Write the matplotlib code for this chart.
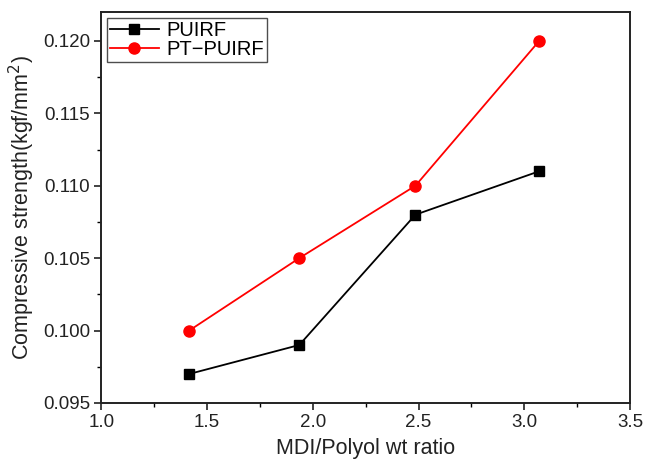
import matplotlib
matplotlib.use('Agg')
import matplotlib.pyplot as plt
from matplotlib.ticker import MultipleLocator

plt.rcParams['font.family'] = ['Liberation Sans', 'DejaVu Sans']

# values
ratio_puirf = [1.416, 1.936, 2.485, 3.07]
strength_puirf = [0.097, 0.099, 0.108, 0.111]
ratio_pt = [1.416, 1.936, 2.485, 3.07]
strength_pt = [0.100, 0.105, 0.110, 0.120]

fig = plt.figure(figsize=(6.45, 4.61), dpi=100)
ax = fig.add_axes([0.157, 0.126, 0.820, 0.848])

ax.plot(ratio_puirf, strength_puirf, 'k-s', lw=1.3, ms=7, label='PUIRF')
ax.plot(ratio_pt, strength_pt, '-o', color='#ff0000', mec='#ff0000', lw=1.3, ms=8,
        label='PT\u2212PUIRF')

ax.set_xlim(1.0, 3.5)
ax.set_ylim(0.095, 0.122)
ax.xaxis.set_major_locator(MultipleLocator(0.5))
ax.xaxis.set_minor_locator(MultipleLocator(0.25))
ax.yaxis.set_major_locator(MultipleLocator(0.005))
ax.yaxis.set_minor_locator(MultipleLocator(0.0025))
ax.xaxis.set_major_formatter(plt.FormatStrFormatter('%.1f'))
ax.yaxis.set_major_formatter(plt.FormatStrFormatter('%.3f'))
ax.tick_params(which='major', direction='out', length=5, width=1.2, labelsize=13.5,
               colors='#222222', pad=3)
ax.tick_params(which='minor', direction='out', length=3, width=1.0)
ax.tick_params(top=False, right=False)
for sp in ax.spines.values():
    sp.set_linewidth(1.4)
    sp.set_color('#222222')

ax.set_xlabel('MDI/Polyol wt ratio', fontsize=15.5, color='#222222', labelpad=5)
ax.set_ylabel('Compressive strength(kgf/mm$^2$)', fontsize=15.5, color='#222222', labelpad=4)

leg = ax.legend(loc='upper left', fontsize=14.5, fancybox=False, edgecolor='#222222',
                borderpad=0.15, handlelength=2.4, handletextpad=0.4, labelspacing=0.0,
                borderaxespad=0.3)
leg.get_frame().set_linewidth(1.0)

fig.savefig('out.png', dpi=100)
